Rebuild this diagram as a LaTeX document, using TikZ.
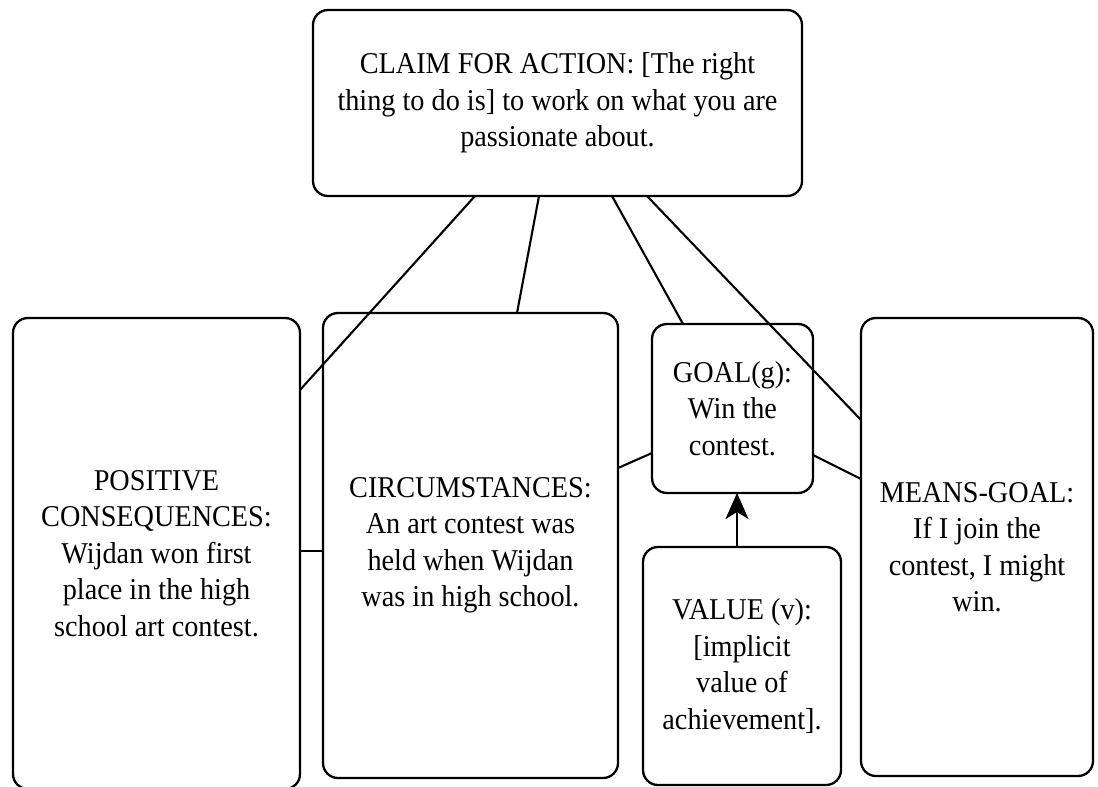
\documentclass[tikz,border=0pt]{standalone}
\usepackage{fontspec}
\setmainfont{Liberation Serif}[FakeStretch=0.935]
\usetikzlibrary{calc,arrows.meta}
\begin{document}
\begin{tikzpicture}[x=1pt,y=-1pt,
  box/.style={draw, rectangle, rounded corners=15pt, line width=2.3pt,
    align=center, inner sep=0pt, outer sep=0pt,
    font=\fontsize{30.2}{36.5}\selectfont},
  link/.style={line width=2.1pt},
  push/.style={line width=2.1pt, -{Stealth[length=26pt, width=23pt, inset=7pt]}}]
\useasboundingbox (0,0) rectangle (1098,787);

% argument boxes
\node[box, minimum width=489pt, minimum height=186pt] (claim) at (557.5,103)
  {CLAIM FOR ACTION: {[}The right\\thing to do is{]} to work on what you are\\passionate about.};
\node[box, minimum width=287pt, minimum height=471pt] (pos) at (156.5,553.5)
  {POSITIVE\\CONSEQUENCES:\\Wijdan won first\\place in the high\\school art contest.};
\node[box, minimum width=295pt, minimum height=465pt] (circ) at (470.5,545.5)
  {CIRCUMSTANCES:\\An art contest was\\held when Wijdan\\was in high school.};
\node[box, minimum width=161pt, minimum height=169pt] (goal) at (732.5,408.5)
  {GOAL(g):\\Win the\\contest.};
\node[box, minimum width=198pt, minimum height=238pt] (value) at (742,666)
  {VALUE (v):\\{[}implicit\\value of\\achievement{]}.};
\node[box, minimum width=232pt, minimum height=458pt] (means) at (977,547)
  {MEANS-GOAL:\\If I join the\\contest, I might\\win.};

% attachment points along the box borders
\coordinate (c1) at ($(claim.south west)+(162,0)$);
\coordinate (c2) at ($(claim.south west)+(226,0)$);
\coordinate (c3) at ($(claim.south west)+(299,0)$);
\coordinate (c4) at ($(claim.south west)+(334,0)$);
\coordinate (p1) at ($(pos.north east)+(0,72)$);
\coordinate (p2) at ($(pos.north east)+(0,233)$);
\coordinate (s1) at ($(circ.north west)+(194,0)$);
\coordinate (s2) at ($(circ.north west)+(0,238)$);
\coordinate (s3) at ($(circ.north east)+(0,155)$);
\coordinate (g1) at ($(goal.north west)+(31,0)$);
\coordinate (g2) at ($(goal.north west)+(0,129)$);
\coordinate (g3) at ($(goal.north east)+(0,131)$);
\coordinate (g4) at ($(goal.south west)+(85,0)$);
\coordinate (m1) at ($(means.north west)+(0,102)$);
\coordinate (m2) at ($(means.north west)+(0,161)$);
\coordinate (v1) at ($(value.north west)+(94,0)$);

% connectors
\draw[link] (c1) -- (p1);
\draw[link] (c2) -- (s1);
\draw[link] (c3) -- (g1);
\draw[link] (c4) -- (m1);
\draw[link] (p2) -- (s2);
\draw[link] (s3) -- (g2);
\draw[link] (g3) -- (m2);
\draw[push] (v1) -- (g4);
\end{tikzpicture}
\end{document}
